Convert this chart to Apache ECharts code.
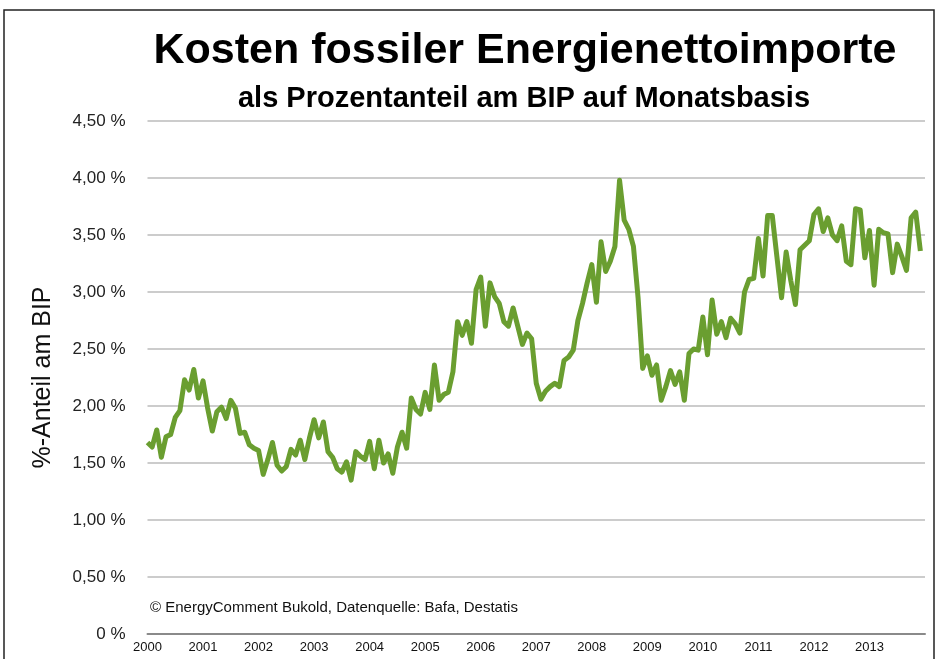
<!DOCTYPE html>
<html>
<head>
<meta charset="utf-8">
<script src="https://cdn.jsdelivr.net/npm/echarts@6/dist/echarts.min.js"></script>
<style>
  html, body { margin: 0; padding: 0; background: #fff; }
  #chart { width: 936px; height: 659px; }
</style>
</head>
<body>
<div id="chart"></div>
<script>
// Jahresbeschriftungen (je 12 Monate)
var years = ['2000', '2001', '2002', '2003', '2004', '2005', '2006',
  '2007', '2008', '2009', '2010', '2011', '2012', '2013']

// Monatswerte in % des BIP
var share2000to2003 = [
  1.68, 1.64, 1.79, 1.55, 1.73, 1.75, 1.90, 1.96, 2.23, 2.14, 2.32, 2.07,
  2.22, 1.98, 1.78, 1.95, 1.99, 1.89, 2.05, 1.98, 1.76, 1.77, 1.66, 1.63,
  1.61, 1.40, 1.53, 1.68, 1.48, 1.43, 1.47, 1.62, 1.57, 1.70, 1.53, 1.72,
  1.88, 1.72, 1.86, 1.60, 1.55, 1.45, 1.42, 1.51, 1.35, 1.60, 1.56, 1.53
]
var share2004to2007 = [
  1.69, 1.45, 1.70, 1.50, 1.58, 1.41, 1.64, 1.77, 1.63, 2.07, 1.97, 1.93,
  2.12, 1.97, 2.36, 2.05, 2.10, 2.12, 2.30, 2.74, 2.62, 2.74, 2.55, 3.02,
  3.13, 2.70, 3.08, 2.96, 2.90, 2.74, 2.70, 2.86, 2.70, 2.54, 2.64, 2.59,
  2.20, 2.06, 2.13, 2.17, 2.20, 2.17, 2.40, 2.43, 2.49, 2.75, 2.90, 3.08
]
var share2008to2011 = [
  3.24, 2.91, 3.44, 3.18, 3.27, 3.40, 3.98, 3.63, 3.55, 3.40, 2.95, 2.33,
  2.44, 2.27, 2.36, 2.05, 2.17, 2.31, 2.19, 2.30, 2.05, 2.46, 2.50, 2.49,
  2.78, 2.45, 2.93, 2.63, 2.74, 2.60, 2.77, 2.72, 2.64, 3.00, 3.11, 3.12,
  3.47, 3.14, 3.67, 3.67, 3.31, 2.95, 3.35, 3.10, 2.89, 3.37, 3.41, 3.45
]
var share2012to2013 = [
  3.68, 3.73, 3.53, 3.65, 3.50, 3.45, 3.58, 3.27, 3.24, 3.73, 3.72, 3.30,
  3.54, 3.06, 3.55, 3.52, 3.51, 3.17, 3.42, 3.31, 3.19, 3.65, 3.70, 3.36
]

var share = share2000to2003.concat(share2004to2007, share2008to2011, share2012to2013)
var seriesData = share.map(function (v, i) { return [i, v] })

var chart = echarts.init(document.getElementById('chart'))

chart.setOption({
  animation: false,
  textStyle: { fontFamily: 'Liberation Sans, Arial, sans-serif' },
  title: [{
    text: 'Kosten fossiler Energienettoimporte',
    left: 520,
    top: 25,
    textAlign: 'center',
    textStyle: { fontSize: 43, fontWeight: 'bold', color: '#000' }
  }, {
    text: 'als Prozentanteil am BIP auf Monatsbasis',
    left: 519,
    top: 79,
    textAlign: 'center',
    textStyle: { fontSize: 29, fontWeight: 'bold', color: '#000' }
  }],
  graphic: [{
    type: 'rect',
    shape: { x: 4, y: 10, width: 930, height: 700 },
    style: { fill: 'none', stroke: '#222', lineWidth: 1.5 },
    silent: true
  }, {
    type: 'text',
    left: 150,
    top: 600,
    style: {
      text: '© EnergyComment Bukold, Datenquelle: Bafa, Destatis',
      fontSize: 15,
      fill: '#111',
      fontFamily: 'Liberation Sans, Arial, sans-serif'
    }
  }],
  grid: {
    left: 147.5,
    right: 11,
    top: 121,
    bottom: 25
  },
  xAxis: {
    type: 'value',
    min: 0,
    max: 168,
    interval: 12,
    splitLine: { show: false },
    axisTick: { show: false },
    axisLine: { lineStyle: { color: '#8a8a8a', width: 2 } },
    axisLabel: {
      fontSize: 13,
      color: '#111',
      margin: 7,
      formatter: function (v) {
        return years[v / 12] || ''
      }
    }
  },
  yAxis: {
    type: 'value',
    min: 0,
    max: 4.5,
    interval: 0.5,
    name: '%-Anteil am BIP',
    nameLocation: 'middle',
    nameRotate: 90,
    nameGap: 92,
    nameTextStyle: { fontSize: 25, color: '#111' },
    axisLine: { show: false },
    axisTick: { show: false },
    axisLabel: {
      fontSize: 17,
      color: '#222',
      margin: 22,
      formatter: function (v) {
        return v === 0 ? '0 %' : v.toFixed(2).replace('.', ',') + ' %'
      }
    },
    splitLine: { lineStyle: { color: '#cccccc', width: 2 } }
  },
  series: [{
    type: 'line',
    data: seriesData,
    showSymbol: false,
    lineStyle: { color: '#6a9e30', width: 5, join: 'round' },
    z: 3
  }]
})
</script>
</body>
</html>
